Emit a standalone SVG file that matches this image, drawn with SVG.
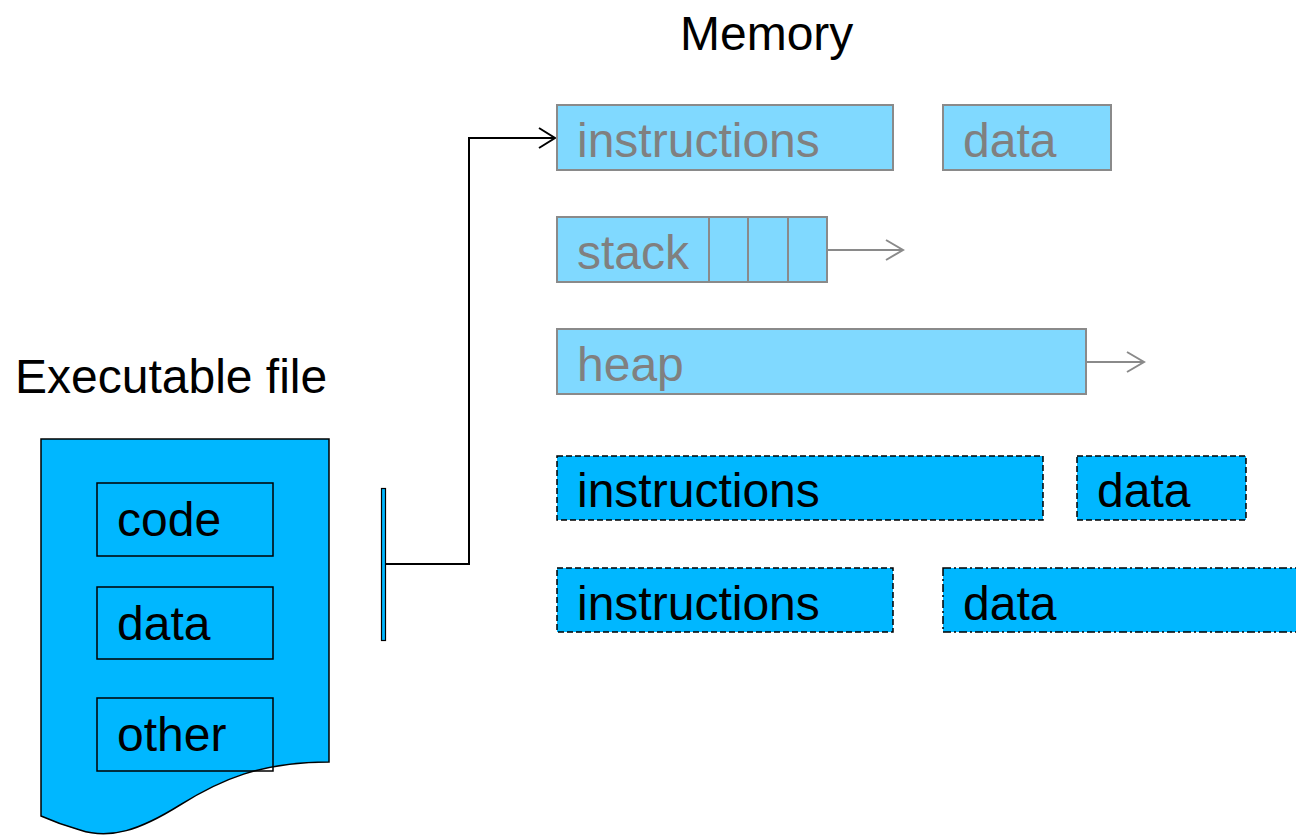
<svg xmlns="http://www.w3.org/2000/svg" width="1296" height="835" viewBox="0 0 1296 835">
<style>
text{font-family:"Liberation Sans",Arial,sans-serif;font-size:48px}
.lt{fill:#80D9FF;stroke:#8A8A8A;stroke-width:2}
.lt-t{fill:#808080}
.dk{fill:#00B7FF;stroke:#000;stroke-width:1.5}
.dash{stroke-dasharray:6,3}
.dashdot{stroke-dasharray:8,3,2,3}
.blk{fill:#000}
.inner{fill:none;stroke:#000;stroke-width:1.5}
</style>
<defs>
<marker id="ahB" markerWidth="20" markerHeight="24" refX="17" refY="11" orient="auto" markerUnits="userSpaceOnUse">
<path d="M1,1 L17,11 L1,21" fill="none" stroke="#000" stroke-width="2"/>
</marker>
<marker id="ahG" markerWidth="22" markerHeight="24" refX="18" refY="11" orient="auto" markerUnits="userSpaceOnUse">
<path d="M1,1 L18,11 L1,21" fill="none" stroke="#8A8A8A" stroke-width="2"/>
</marker>
</defs>
<text x="680" y="50" class="blk">Memory</text>
<text x="15" y="393" class="blk">Executable file</text>
<g id="exe">
<path d="M41,439 H329 V762 C260,762 220,780 180,805 C140,830 110,840 80,830 C62,825 50,820 41,816 Z" fill="#00B7FF" stroke="#000" stroke-width="1.5"/>
<rect x="97" y="483" width="176" height="73" class="inner"/>
<text x="117" y="536" class="blk">code</text>
<rect x="97" y="587" width="176" height="72" class="inner"/>
<text x="117" y="640" class="blk">data</text>
<rect x="97" y="698" width="176" height="73" class="inner"/>
<text x="117" y="751" class="blk">other</text>
</g>
<g id="bar">
<rect x="381.5" y="488.5" width="4" height="152" fill="#00B7FF" stroke="#000" stroke-width="1.2"/>
</g>
<g id="connectors">
<polyline points="385,564 469,564 469,138 555,138" fill="none" stroke="#000" stroke-width="2" marker-end="url(#ahB)"/>
<line x1="827" y1="250" x2="903" y2="250" stroke="#8A8A8A" stroke-width="2" marker-end="url(#ahG)"/>
<line x1="1086" y1="362" x2="1144" y2="362" stroke="#8A8A8A" stroke-width="2" marker-end="url(#ahG)"/>
</g>
<g id="mem-instr1">
<rect x="557" y="105" width="336" height="65" class="lt"/>
<text x="577" y="157" class="lt-t">instructions</text>
</g>
<g id="mem-data1">
<rect x="943" y="105" width="168" height="65" class="lt"/>
<text x="963" y="157" class="lt-t">data</text>
</g>
<g id="mem-stack">
<rect x="557" y="217" width="270" height="65" class="lt"/>
<line x1="709" y1="217" x2="709" y2="282" stroke="#8A8A8A" stroke-width="2"/>
<line x1="748" y1="217" x2="748" y2="282" stroke="#8A8A8A" stroke-width="2"/>
<line x1="788" y1="217" x2="788" y2="282" stroke="#8A8A8A" stroke-width="2"/>
<text x="577" y="269" class="lt-t">stack</text>
</g>
<g id="mem-heap">
<rect x="557" y="329" width="529" height="65" class="lt"/>
<text x="577" y="381" class="lt-t">heap</text>
</g>
<g id="mem-instr2">
<rect x="557" y="456" width="486" height="64" class="dk dash"/>
<text x="577" y="507" class="blk">instructions</text>
</g>
<g id="mem-data2">
<rect x="1077" y="456" width="169" height="64" class="dk dash"/>
<text x="1097" y="507" class="blk">data</text>
</g>
<g id="mem-instr3">
<rect x="557" y="568" width="336" height="64" class="dk dash"/>
<text x="577" y="620" class="blk">instructions</text>
</g>
<g id="mem-data3">
<rect x="943" y="568" width="380" height="64" class="dk dashdot"/>
<text x="963" y="620" class="blk">data</text>
</g>
</svg>
